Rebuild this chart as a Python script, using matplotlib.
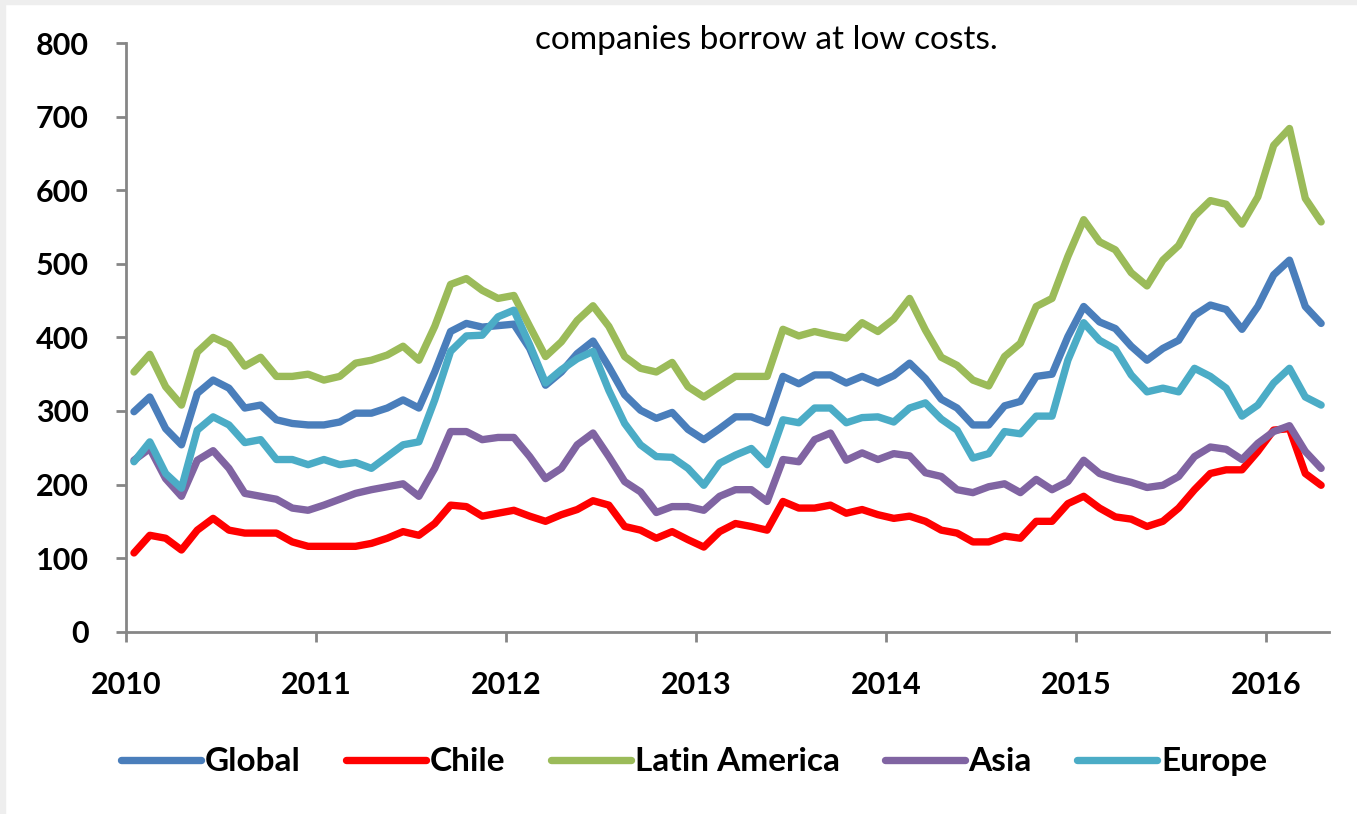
import numpy as np
import matplotlib
matplotlib.use("Agg")
import matplotlib.pyplot as plt
from matplotlib.patches import Rectangle

plt.rcParams['font.family'] = ['Lato', 'DejaVu Sans']

# monthly series, Jan 2010 - Apr 2016
years = ['2010', '2011', '2012', '2013', '2014', '2015', '2016']

global_ = [299, 319, 276, 254, 324, 342, 331, 304, 308, 288, 283, 281, 281, 285, 297, 297, 304, 315, 304, 353, 408, 419, 414, 416, 418,
           385, 335, 353, 378, 395, 360, 322, 301, 290, 298, 275, 261, 276, 292, 292, 284, 347, 337, 349, 349, 338, 347, 338, 348,
           365, 344, 316, 304, 281, 281, 307, 313, 347, 350, 401, 442, 421,
           412, 388, 369, 385, 396, 430, 444, 438, 411, 442, 485, 505, 442, 419]

chile = [107, 131, 127, 111, 138, 154, 138, 134, 134, 134, 122, 116, 116, 116, 116, 120, 127, 136, 131, 147, 172, 170, 157, 161, 165,
         157, 150, 159, 166, 178, 172, 143, 138, 127, 136, 125, 115, 136, 147, 143, 138, 177, 168, 168, 172, 161, 166, 159, 154,
         157, 150, 138, 134, 122, 122, 130, 127, 150, 150, 174, 184, 168,
         156, 153, 143, 150, 168, 193, 215, 220, 220, 245, 274, 276, 215, 199]

latam = [353, 377, 333, 308, 380, 400, 390, 361, 373, 347, 347, 350, 342, 347, 365, 369, 376, 388, 369, 415, 472, 480, 464, 453, 457,
         415, 374, 394, 423, 443, 415, 374, 358, 353, 366, 333, 319, 333, 347, 347, 347, 411, 402, 408, 403, 399, 420, 408, 425,
         453, 410, 373, 362, 342, 334, 374, 392, 442, 453, 510, 560, 530,
         519, 488, 470, 505, 525, 565, 586, 581, 554, 591, 661, 684, 589, 557]

asia = [233, 249, 208, 184, 233, 246, 222, 188, 184, 180, 168, 165, 172, 180, 188, 193, 197, 201, 184, 222, 272, 272, 261, 264, 264,
        238, 208, 222, 254, 270, 238, 204, 190, 162, 170, 170, 165, 184, 193, 193, 177, 234, 231, 261, 270, 233, 243, 234, 242,
        239, 216, 211, 193, 189, 197, 201, 189, 207, 193, 204, 233, 215,
        208, 203, 196, 199, 211, 238, 251, 248, 234, 256, 272, 280, 245, 222]

europe = [231, 258, 215, 195, 274, 292, 281, 257, 261, 234, 234, 227, 234, 227, 230, 222, 238, 254, 258, 315, 381, 402, 403, 428, 437,
          390, 338, 356, 371, 381, 328, 283, 254, 238, 237, 222, 199, 229, 240, 249, 227, 288, 284, 304, 304, 284, 291, 292, 285,
          304, 311, 289, 274, 236, 242, 272, 269, 293, 293, 369, 420, 396,
          384, 349, 326, 331, 326, 358, 347, 331, 293, 308, 338, 358, 319, 308]

series = [('Global', global_, '#4A7EBB'),
          ('Chile', chile, '#FF0000'),
          ('Latin America', latam, '#9BBB59'),
          ('Asia', asia, '#8064A2'),
          ('Europe', europe, '#4BACC6')]

fig = plt.figure(figsize=(13.57, 8.14), dpi=100)
ax = fig.add_axes([0.0929, 0.224, 0.8865, 0.723])

# thin grey border strips like the slide background
fig.patches.append(Rectangle((0, 0.995), 1, 0.005, transform=fig.transFigure, color='#eeeeee', zorder=0))
fig.patches.append(Rectangle((0, 0), 0.004, 1, transform=fig.transFigure, color='#eeeeee', zorder=0))

x = np.arange(len(global_))
for name, vals, col in series:
    ax.plot(x, vals, color=col, lw=5.3, label=name, solid_joinstyle='round', solid_capstyle='round')

ax.set_xlim(-0.5, 75.5)
ax.set_ylim(0, 800)
ax.set_yticks(range(0, 801, 100))
ax.set_xticks([-0.5 + 12 * k for k in range(len(years))])
ax.set_xticklabels(years)

for s in ['top', 'right']:
    ax.spines[s].set_visible(False)
for s in ['left', 'bottom']:
    ax.spines[s].set_color('#868686')
    ax.spines[s].set_linewidth(2)
ax.tick_params(axis='both', direction='out', length=7, width=2, color='#868686', labelsize=22, pad=20)
ax.tick_params(axis='x', pad=21)
for lbl in ax.get_xticklabels() + ax.get_yticklabels():
    lbl.set_fontweight('bold')

fig.text(0.5645, 0.951, 'companies borrow at low costs.', fontsize=24, ha='center', va='center')

leg = fig.legend(loc='center', bbox_to_anchor=(0.5115, 0.064), ncol=5, frameon=False,
                 prop={'size': 24, 'weight': 'bold'}, handlelength=2.4, handletextpad=0.12, columnspacing=1.35)

fig.savefig('out.png', dpi=100)
